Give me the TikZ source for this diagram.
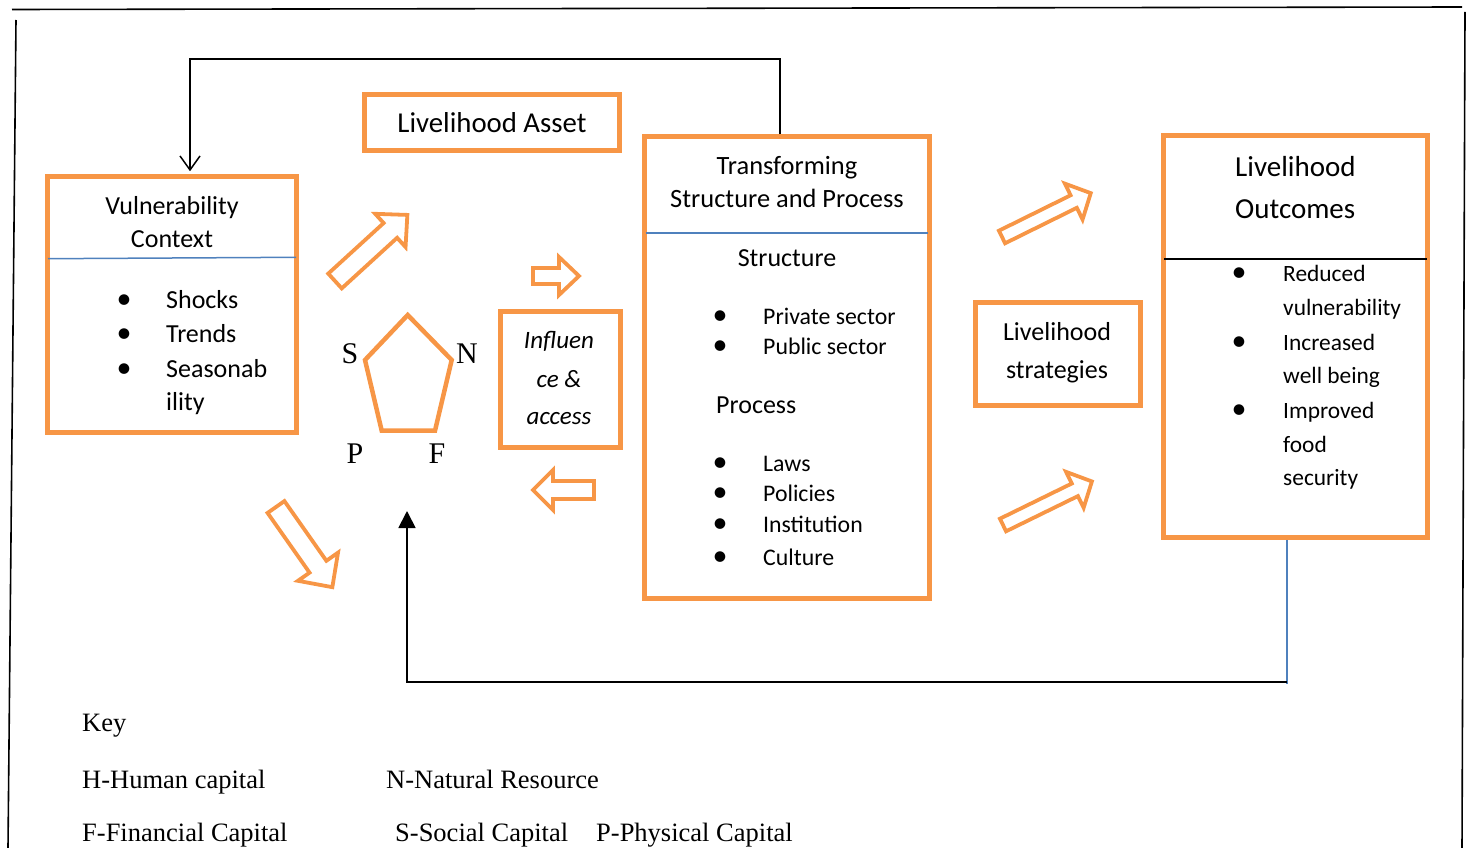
\documentclass[tikz,border=0pt]{standalone}
\usepackage{fontspec}
\setmainfont{Carlito}
\newfontfamily\tnr{Liberation Serif}
\usetikzlibrary{arrows.meta}
\definecolor{orng}{HTML}{F79646}
\definecolor{divblue}{HTML}{4F81BD}
\newcommand\fsz[1]{\fontsize{#1}{#1}\selectfont}
\newcommand\blkarrow[7]{%
  \draw[harrow, shift={(#1,#2)}, rotate=#3]
    (0,-#5) -- (#4-#7,-#5) -- (#4-#7,-#6) -- (#4,0) -- (#4-#7,#6) -- (#4-#7,#5) -- (0,#5) -- cycle;}
\begin{document}
\begin{tikzpicture}[x=1pt,y=-1pt,
  obox/.style={draw=orng, line width=4.5pt, inner sep=0pt},
  harrow/.style={draw=orng, line width=3.8pt, line join=miter},
  txt/.style={inner sep=0pt, anchor=base west},
  ctxt/.style={inner sep=0pt, anchor=base},
  bul/.style={inner sep=0pt, anchor=base, font={\fsz{30}}},
  frame/.style={line width=1.6pt},
  conn/.style={line width=1.5pt},
]
\useasboundingbox (0,0) rectangle (1470,848);
% outer frame
\draw[frame] (12,9.5) -- (1462,7);
\draw[frame] (16,20) -- (8,848);
\draw[frame] (1465,12) -- (1462,848);

% boxes
\node[obox, minimum width=249pt, minimum height=256pt] (vul) at (172,304.5) {};
\node[obox, minimum width=255pt, minimum height=56pt] (asset) at (492,122.5) {};
\node[ctxt, font={\fsz{28.8}}] (a1) at (492,133) {Livelihood Asset};
\node[obox, minimum width=285pt, minimum height=462pt] (trans) at (787,367.5) {};
\node[obox, minimum width=165pt, minimum height=103pt] (strat) at (1058,354) {};
\node[obox, minimum width=264pt, minimum height=402pt] (out) at (1295.5,336.5) {};
\node[obox, minimum width=120pt, minimum height=136pt] (infl) at (560.5,379.5) {};

% dividers
\draw[divblue, line width=1.5pt] (48,258.7) -- (296,257.3);
\draw[divblue, line width=1.5pt] (646,233) -- (928,233);
\draw[black, line width=1.5pt] (1164,259) -- (1427,259);

% vulnerability text
\node[ctxt, font={\fsz{26}}] (v1) at (172,214) {Vulnerability};
\node[ctxt, font={\fsz{26}}] (v2) at (172,247) {Context};
\node[bul] (vb1) at (124,308) {•};
\node[bul] (vb2) at (124,342) {•};
\node[bul] (vb3) at (124,377) {•};
\node[txt, font={\fsz{26}}] (v3) at (166,308) {Shocks};
\node[txt, font={\fsz{26}}] (v4) at (166,342) {Trends};
\node[txt, font={\fsz{26}}] (v5) at (166,377) {Seasonab};
\node[txt, font={\fsz{26}}] (v6) at (166,410) {ility};

% transforming text
\node[ctxt, font={\fsz{26.4}}] (t1) at (787,175) {Transforming};
\node[ctxt, font={\fsz{26.4}}] (t2) at (787,207) {Structure and Process};
\node[ctxt, font={\fsz{26}}] (t3) at (787,266) {Structure};
\node[bul] (tb1) at (720,324) {•};
\node[bul] (tb2) at (720,354) {•};
\node[txt, font={\fsz{23.8}}] (t4) at (763,324) {Private sector};
\node[txt, font={\fsz{23.8}}] (t5) at (763,354) {Public sector};
\node[txt, font={\fsz{26}}] (t6) at (716,413) {Process};
\node[bul] (tb3) at (720,471) {•};
\node[bul] (tb4) at (720,501) {•};
\node[bul] (tb5) at (720,532) {•};
\node[bul] (tb6) at (720,565) {•};
\node[txt, font={\fsz{23.8}}] (t7) at (763,471) {Laws};
\node[txt, font={\fsz{23.8}}] (t8) at (763,501) {Policies};
\node[txt, font={\fsz{23.8}}] (t9) at (763,532) {Institution};
\node[txt, font={\fsz{23.8}}] (t10) at (763,565) {Culture};

% strategies text
\node[ctxt, font={\fsz{26}}] (s1) at (1057,340) {Livelihood};
\node[ctxt, font={\fsz{26}}] (s2) at (1057,378) {strategies};

% outcomes text
\node[txt, font={\fsz{29}}] (o1) at (1235,176) {Livelihood};
\node[txt, font={\fsz{29}}] (o2) at (1235,218) {Outcomes};
\node[bul] (ob1) at (1239,281) {•};
\node[bul] (ob2) at (1239,350) {•};
\node[bul] (ob3) at (1239,418) {•};
\node[txt, font={\fsz{23.4}}] (o3) at (1283,281) {Reduced};
\node[txt, font={\fsz{23.4}}] (o4) at (1283,315) {vulnerability};
\node[txt, font={\fsz{23.4}}] (o5) at (1283,350) {Increased};
\node[txt, font={\fsz{23.4}}] (o6) at (1283,383) {well being};
\node[txt, font={\fsz{23.4}}] (o7) at (1283,418) {Improved};
\node[txt, font={\fsz{23.4}}] (o8) at (1283,452) {food};
\node[txt, font={\fsz{23.4}}] (o9) at (1283,485) {security};

% influence text
\node[ctxt, font={\fsz{25}\itshape}] (i1) at (559,348) {Influen};
\node[ctxt, font={\fsz{25}\itshape}] (i2) at (559,387) {ce \&};
\node[ctxt, font={\fsz{25}\itshape}] (i3) at (559,424) {access};

% pentagon
\draw[orng, line width=4.5pt, line join=miter] (407.7,315) -- (451.7,360) -- (435,430.7) -- (381.7,430.7) -- (365,360) -- cycle;
\node[ctxt, font={\tnr\fsz{30}}] (pS) at (350,363) {S};
\node[ctxt, font={\tnr\fsz{30}}] (pN) at (467,363) {N};
\node[ctxt, font={\tnr\fsz{30}}] (pP) at (355,463) {P};
\node[ctxt, font={\tnr\fsz{30}}] (pF) at (437,463) {F};

% block arrows
\blkarrow{335}{281}{42.4}{98}{10}{22.5}{23}
\blkarrow{533}{276}{0}{46}{8}{19}{20}
\blkarrow{594}{490}{180}{61}{9}{20}{20}
\blkarrow{276}{507}{-54.9}{98}{10.3}{24.5}{25}
\blkarrow{1002}{237}{26.3}{99}{7}{20}{19}
\blkarrow{1003}{525}{26.1}{99}{7}{20}{19}

% connectors
\coordinate (tr) at (780,59);
\coordinate (tl) at (190,59);
\draw[conn, -{Straight Barb[length=14pt,width=20pt]}, shorten >=3pt] (trans.north -| tr) -- (tr) -- (tl) -- (vul.north -| tl);
\coordinate (br) at (1287,682);
\coordinate (bl) at (407,682);
\coordinate (bt) at (407,511);
\coordinate (bbot) at (1287,684);
\draw[divblue, line width=2pt] (out.south -| br) -- (bbot);
\draw[line width=1.8pt, -{Triangle[length=17pt,width=17pt]}] (br) -- (bl) -- (bt);

% key
\node[txt, font={\tnr\fsz{26.5}}] (k0) at (82,731) {Key};
\node[txt, font={\tnr\fsz{26.5}}] (k1) at (82,788) {H-Human capital};
\node[txt, font={\tnr\fsz{26.5}}] (k2) at (386,788) {N-Natural Resource};
\node[txt, font={\tnr\fsz{26.5}}] (k3) at (82,841) {F-Financial Capital};
\node[txt, font={\tnr\fsz{26.5}}] (k4) at (395,841) {S-Social Capital};
\node[txt, font={\tnr\fsz{26.5}}] (k5) at (596,841) {P-Physical Capital};
\end{tikzpicture}
\end{document}
